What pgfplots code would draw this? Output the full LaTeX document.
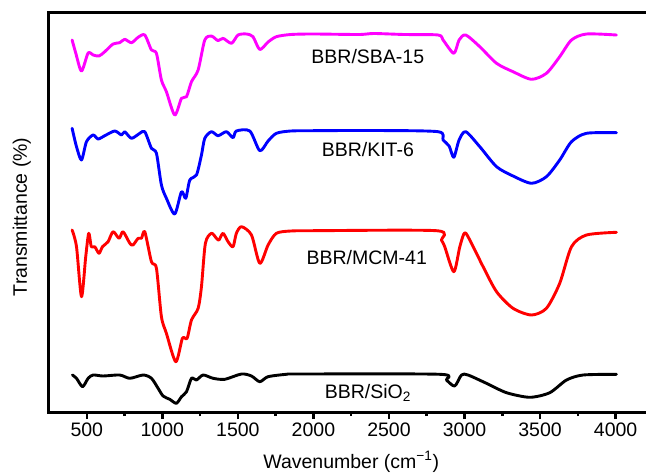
\documentclass[border=0pt]{standalone}
\usepackage{fontspec}
\setmainfont{Liberation Sans}
\usepackage{pgfplots}
\pgfplotsset{compat=1.18}
\definecolor{cMag}{RGB}{255,0,255}
\definecolor{cBlue}{RGB}{0,0,255}
\definecolor{cRed}{RGB}{255,0,0}
\newcommand{\lf}{\fontsize{19.5}{23}\selectfont}
\begin{document}
\begin{tikzpicture}
\begin{axis}[
  scale only axis, width=604.4pt, height=399pt,
  xmin=250, xmax=4250, ymin=0, ymax=399,
  ytick=\empty,
  xtick={500,1000,1500,2000,2500,3000,3500,4000},
  minor x tick num=1,
  tick align=outside, xtick pos=left,
  major tick length=7pt, minor tick length=4pt,
  every tick/.style={line width=2.5pt, black},
  axis line style={line width=3pt},
  /pgf/number format/assume math mode=true,
  /pgf/number format/1000 sep={},
  tick label style={font=\lf},
  xlabel={Wavenumber (cm\textsuperscript{−1})},
  ylabel={Transmittance (\%)},
  label style={font=\lf},
  xlabel style={at={(axis description cs:0.5,-0.125)}, anchor=center},
  ylabel style={at={(axis description cs:-0.045,0.489)}, anchor=center, rotate=0},
  every axis plot/.style={line width=2.9pt, line join=round, line cap=round, smooth, tension=0.45},
]
% BBR/SBA-15
\addplot[cMag] coordinates {
(403,372)(427,359)(465,341)(509,359)(542,357)(581,356)(619,360.3)(674,368)(718,369.3)(751,372.7)(796,369.3)(840,374.7)(884,377)(928,362)(961,358.7)(994,332)(1027,320.3)(1082,297)(1127,313.7)(1160,315.3)(1193,330.3)(1237,342)(1281,372)(1325,376)(1369,371.3)(1402,373.7)(1458,368.7)(1501,377)(1557,378)(1600,375.3)(1645,362.5)(1700,370)(1755,375.3)(1850,377.5)(2000,378)(2300,377.5)(2400,378.5)(2600,377.5)(2825,377)(2858,372)(2929,358.7)(2964,372)(3008,377)(3101,365.3)(3212,348.7)(3321,340.3)(3443,332.7)(3542,338.7)(3630,355.3)(3708,372)(3807,378)(4005,377)
};
% BBR/KIT-6
\addplot[cBlue] coordinates {
(403,283.7)(432,265.3)(465,252)(498,270.3)(542,277)(575,273)(619,276.3)(685,281)(730,277)(751,280.3)(796,273.7)(851,278.7)(884,280.3)(928,263.7)(961,258.7)(994,227)(1027,213.7)(1082,198)(1127,220.3)(1155,213.7)(1182,232)(1226,237)(1259,257)(1281,273.7)(1325,280.3)(1369,276.3)(1424,280.3)(1468,274.3)(1490,281)(1579,281)(1645,261.3)(1700,271)(1755,278.7)(1850,281)(2000,281.3)(2400,281.5)(2825,280.3)(2858,272)(2898,266)(2929,254.7)(2964,272)(3008,280.3)(3101,265.3)(3212,245.3)(3321,236)(3443,228.7)(3542,235.3)(3630,252)(3708,270.3)(3807,278.7)(4005,279.3)
};
% BBR/MCM-41
\addplot[cRed] coordinates {
(403,182)(432,165.3)(465,115.3)(493,155.3)(513,178.7)(530,165.3)(553,165.3)(581,158.7)(604,165.3)(641,170.3)(674,180.3)(714,173.7)(740,180.3)(785,168.7)(806,167)(840,173.7)(862,173.7)(884,180.3)(928,150.3)(961,143.7)(994,95.3)(1027,78.7)(1089,50.3)(1133,73.7)(1164,73.7)(1193,92)(1237,103.7)(1259,125.3)(1285,168.7)(1325,178.7)(1358,173.7)(1375,172)(1402,178.7)(1435,170.3)(1468,165.3)(1490,178.7)(1524,185.3)(1590,177)(1645,148.7)(1700,167)(1755,178.7)(1850,181)(2000,181.3)(2814,181.3)(2847,172)(2869,165.3)(2929,140.3)(2969,165.3)(3002,179.3)(3046,168.7)(3123,145.3)(3212,120.3)(3321,103.7)(3443,97)(3542,103.7)(3630,128.7)(3708,165.3)(3807,177)(4005,179.7)
};
% BBR/SiO2
\addplot[black] coordinates {
(405,37)(432,33.7)(472,25.3)(509,33.7)(542,37)(608,36)(718,37)(785,33.7)(873,37)(928,33.7)(972,23.7)(1005,16)(1049,12.7)(1093,8.7)(1127,15.3)(1160,20.3)(1193,33.7)(1226,32)(1270,37)(1336,33.7)(1413,32.7)(1524,38)(1590,36)(1645,30.3)(1700,35.3)(1821,37.7)(1910,38)(2836,37.7)(2880,32)(2935,26)(2980,37)(3023,37)(3145,28.7)(3278,19.3)(3432,14.7)(3564,19.3)(3675,32)(3785,37)(4005,37.7)
};
\node[font=\lf] at (axis cs:2360,355.3) {BBR/SBA-15};
\node[font=\lf] at (axis cs:2360,262) {BBR/KIT-6};
\node[font=\lf] at (axis cs:2353,154) {BBR/MCM-41};
\node[font=\lf] at (axis cs:2360,19) {BBR/SiO\textsubscript{2}};
\end{axis}
\pgfresetboundingbox
\useasboundingbox (-49pt,-60pt) rectangle (597pt,412pt);
\end{tikzpicture}
\end{document}
